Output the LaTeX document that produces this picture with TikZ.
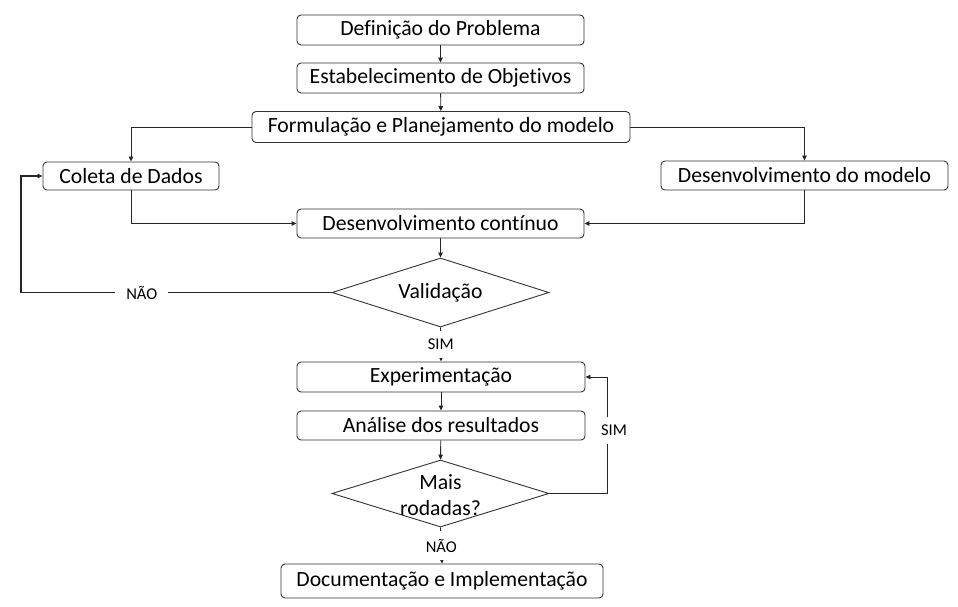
\documentclass[tikz,border=0pt]{standalone}
\usepackage{fontspec}
\setmainfont{Carlito}[Ligatures=NoCommon]
\usetikzlibrary{arrows.meta,shapes.geometric}
\tikzset{
	>={Triangle[length=5pt,width=4.5pt]},
	caixa/.style={draw=black!80, line width=0.9pt, rounded corners=4pt, inner sep=0pt, font=\fontsize{21.7}{25}\selectfont},
	losango/.style={diamond, draw=black!80, line width=0.9pt, inner sep=0pt},
	texto/.style={font=\fontsize{21.7}{26}\selectfont, align=center},
	linha/.style={draw=black!85, line width=0.9pt},
	laco/.style={draw=black!85, line width=1.8pt},
	rotulo/.style={fill=white, inner xsep=11pt, inner ysep=8pt, font=\fontsize{16.5}{18}\selectfont}
}

\begin{document}
\begin{tikzpicture}[x=1pt, y=-1pt]
			%%%%% START %%%%%
			
			\useasboundingbox (0, 0) rectangle (958, 607);
			
			\node[caixa, minimum width=287, minimum height=30] (def) at (440.5, 30) {Definição do Problema};
			\node[caixa, minimum width=287, minimum height=30] (obj) at (440.5, 78) {Estabelecimento de Objetivos};
			\node[caixa, minimum width=378, minimum height=31] (form) at (441, 127) {Formulação e Planejamento do modelo};
			
			\node[caixa, minimum width=176, minimum height=28] (coleta) at (131, 176) {Coleta de Dados};
			\node[caixa, minimum width=287, minimum height=29] (desmod) at (804.5, 175.5) {Desenvolvimento do modelo};
			\node[caixa, minimum width=287, minimum height=29] (cont) at (440.5, 223.5) {Desenvolvimento contínuo};
			
			\node[losango, minimum width=217, minimum height=69] (valid) at (440.5, 292.5) {};
			\node[texto] (validtxt) at (valid) {Validação};
			
			\node[caixa, minimum width=288, minimum height=30] (exp) at (441, 377) {Experimentação};
			\node[caixa, minimum width=288, minimum height=29] (anal) at (441, 425.5) {Análise dos resultados};
			
			\node[losango, minimum width=217, minimum height=67] (mais) at (440.5, 493.5) {};
			\node[texto] (maistxt) at (440.5, 495) {Mais\\rodadas?};
			
			\node[caixa, minimum width=322, minimum height=34] (doc) at (442, 581) {Documentação e Implementação};
			
			\coordinate (cantoA) at (21, 292.5);
			\coordinate (cantoB) at (607, 493.5);
			
			\draw[linha, ->] (def) -- (obj);
			\draw[linha, ->] (obj) -- (form);
			\draw[linha, ->] (form.west) -| (coleta.north);
			\draw[linha, ->] (form.east) -| (desmod.north);
			\draw[linha, ->] (coleta.south) |- (cont.west);
			\draw[linha, ->] (desmod.south) |- (cont.east);
			\draw[linha, ->] (cont) -- (valid.north);
			
			\draw[laco, ->] (valid.west) -- node[rotulo, pos=0.611] {NÃO} (cantoA) |- (coleta.west);
			\draw[linha, ->] (valid.south) -- node[rotulo] {SIM} (exp.north);
			
			\draw[linha, ->] (exp) -- (anal);
			\draw[linha, ->] (anal) -- (mais.north);
			\draw[linha, ->] (mais.east) -- (cantoB) |- node[rotulo, pos=0.27, xshift=7pt] {SIM} (exp.east);
			\draw[linha, ->] (mais.south) -- node[rotulo] {NÃO} (doc.north);
			
			%%%%% END %%%%%
		\end{tikzpicture}
\end{document}
